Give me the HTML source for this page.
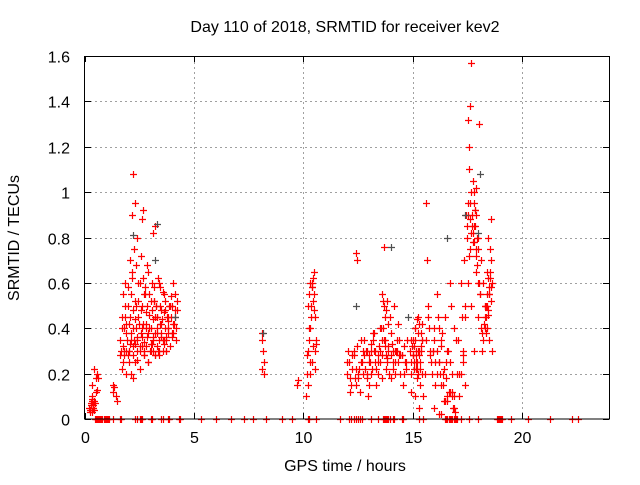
<!DOCTYPE html>
<html><head><meta charset="utf-8"><style>
body{margin:0;background:#fff}
svg text{font-family:"Liberation Sans",sans-serif;font-size:16px;fill:#000}
</style></head><body>
<svg id="chart" width="640" height="480" xmlns="http://www.w3.org/2000/svg">
<rect width="640" height="480" fill="#fff"/>
<text x="345" y="32" text-anchor="middle">Day 110 of 2018, SRMTID for receiver kev2</text>
<text x="345" y="471" text-anchor="middle">GPS time / hours</text>
<text transform="translate(19,238) rotate(-90)" text-anchor="middle">SRMTID / TECUs</text>
<g id="grid"></g>
<g id="axes"></g>
<g id="points"></g>
<rect x="84.5" y="56.5" width="525" height="362.5" fill="none" stroke="#000" stroke-width="1"/>
</svg>
<script>
const xTicks=[0,5,10,15,20];
const yTicks=[0,0.2,0.4,0.6,0.8,1,1.2,1.4,1.6];
const yTickLabels=["0","0.2","0.4","0.6","0.8","1","1.2","1.4","1.6"];
// red series: times (hours) and values (TECU)
const redT=[0.2,0.25,0.3,0.3,0.35,0.4,0.45,0.3,0.4,0.5,0.55,0.6,0.35,1.3,1.35,1.4,1.45,1.3,
1.6,1.65,1.7,1.75,1.8,1.85,1.9,1.95,2.0,2.05,2.1,2.15,2.2,2.25,2.3,2.35,2.4,2.45,2.5,2.55,2.6,2.65,2.7,2.75,2.8,2.85,2.9,2.95,3.0,3.05,3.1,3.15,3.2,3.25,3.3,3.35,3.4,3.45,3.5,3.55,3.6,3.65,3.7,3.8,3.9,4.0,4.05,4.1,4.15,4.2,
1.7,1.8,1.9,2.0,2.1,2.2,2.3,2.4,2.5,2.6,2.7,2.8,2.9,3.0,3.1,3.2,3.3,3.4,3.5,3.6,3.7,3.8,3.9,4.0,4.1,4.2,
1.75,1.85,1.95,2.05,2.15,2.25,2.35,2.45,2.55,2.65,2.75,2.85,2.95,3.05,3.15,3.25,3.35,3.45,3.55,3.65,3.75,3.85,3.95,4.05,4.15,
2.2,2.3,2.15,2.6,2.65,3.2,3.1,2.4,
8.1,8.15,8.2,8.12,8.18,8.1,9.7,9.75,
10.1,10.15,10.2,10.25,10.3,10.35,10.4,10.45,10.5,10.55,10.6,10.2,10.3,10.4,10.5,10.15,10.35,10.45,10.55,10.25,
12.0,12.1,12.2,12.3,12.4,12.5,12.6,12.7,12.8,12.9,13.0,13.1,13.2,13.3,13.4,13.5,13.6,13.7,13.8,13.9,14.0,14.1,14.2,14.3,14.4,14.5,14.6,14.7,
12.05,12.25,12.45,12.65,12.85,13.05,13.25,13.45,13.65,13.85,14.05,14.25,14.45,14.65,
12.15,12.35,12.55,12.75,12.95,13.15,13.35,13.55,13.75,13.95,14.15,14.35,14.55,14.75,12.4,12.45,13.7,13.6,13.65,13.7,
14.9,14.95,15.0,15.05,15.1,15.15,15.2,15.25,15.3,15.35,15.4,15.45,14.95,15.05,15.15,15.25,15.35,15.45,15.0,15.2,15.4,15.1,15.3,
15.6,15.7,15.8,15.9,16.0,16.1,16.2,16.3,16.4,16.5,16.6,16.7,16.8,16.9,17.0,15.65,15.75,15.85,15.95,16.05,16.15,16.25,16.35,16.45,16.55,16.65,16.75,16.85,16.95,15.5,15.55,16.0,16.3,16.6,16.8,16.2,16.9,17.05,
17.1,17.2,17.3,17.4,17.5,17.6,17.7,17.8,17.9,18.0,18.1,18.2,18.3,18.4,18.5,18.6,17.15,17.25,17.35,17.45,17.55,17.65,17.75,17.85,17.95,18.05,18.15,18.25,18.35,18.45,18.55,
17.5,17.55,17.6,17.65,17.7,17.75,17.8,17.85,17.9,17.95,18.0,18.05,18.1,17.6,17.7,17.8,17.9,18.0,18.2,18.3,18.4,18.5,18.6,18.45,18.55,17.3,17.4];
const redV=[0.05,0.03,0.08,0.1,0.06,0.04,0.07,0.15,0.22,0.12,0.2,0.18,0.05,0.12,0.14,0.1,0.08,0.15,
0.35,0.3,0.45,0.25,0.4,0.5,0.38,0.28,0.42,0.33,0.55,0.62,0.48,0.35,0.52,0.4,0.3,0.45,0.6,0.38,0.5,0.42,0.3,0.55,0.47,0.36,0.65,0.4,0.52,0.33,0.44,0.58,0.38,0.5,0.45,0.3,0.6,0.42,0.48,0.35,0.55,0.4,0.3,0.45,0.5,0.38,0.42,0.55,0.35,0.48,
0.22,0.28,0.2,0.3,0.2,0.18,0.25,0.35,0.22,0.32,0.28,0.4,0.25,0.33,0.3,0.45,0.38,0.28,0.42,0.35,0.3,0.4,0.5,0.36,0.45,0.52,
0.55,0.6,0.58,0.7,0.65,0.75,0.68,0.6,0.72,0.62,0.58,0.68,0.55,0.6,0.52,0.5,0.62,0.58,0.56,0.48,0.45,0.5,0.54,0.6,0.4,
1.08,0.95,0.9,0.88,0.92,0.85,0.82,0.8,
0.35,0.3,0.25,0.38,0.2,0.22,0.15,0.17,
0.1,0.2,0.3,0.35,0.4,0.5,0.6,0.62,0.55,0.45,0.35,0.15,0.25,0.58,0.65,0.28,0.45,0.32,0.22,0.4,
0.2,0.25,0.15,0.3,0.22,0.18,0.12,0.25,0.28,0.2,0.15,0.3,0.35,0.25,0.2,0.3,0.28,0.35,0.22,0.3,0.18,0.25,0.2,0.3,0.35,0.28,0.2,0.22,
0.3,0.28,0.32,0.35,0.3,0.25,0.38,0.32,0.4,0.27,0.33,0.3,0.28,0.25,
0.12,0.18,0.22,0.2,0.1,0.22,0.15,0.4,0.35,0.45,0.5,0.42,0.15,0.35,0.73,0.7,0.5,0.55,0.52,0.76,
0.3,0.2,0.35,0.25,0.4,0.28,0.18,0.45,0.3,0.22,0.38,0.42,0.12,0.32,0.25,0.2,0.15,0.35,0.28,0.22,0.3,0.1,0.05,
0.95,0.5,0.3,0.2,0.4,0.55,0.25,0.35,0.15,0.45,0.3,0.6,0.2,0.1,0.35,0.7,0.4,0.25,0.3,0.15,0.45,0.2,0.38,0.08,0.25,0.12,0.5,0.05,0.03,0.1,0.2,0.05,0.02,0.08,0.1,0.02,0.4,0.2,
0.35,0.6,0.25,0.5,0.8,1.2,1.57,1.0,0.9,0.75,0.55,0.3,0.45,0.65,0.55,0.7,0.2,0.45,0.7,0.9,1.32,1.38,1.05,0.85,0.8,0.6,0.4,0.35,0.5,0.62,0.75,
0.85,0.9,1.1,0.95,1.0,0.82,0.78,0.92,0.72,0.68,0.6,1.3,0.55,0.72,0.5,0.3,0.65,0.45,0.38,0.5,0.55,0.58,0.88,0.8,0.62,0.28,0.15];
// extra red points filling the dense clusters
const redT2=[0.25,0.28,0.32,0.38,0.42,0.27,0.33,0.5,0.55,
1.62,1.68,1.72,1.78,1.82,1.88,1.92,1.98,2.02,2.08,2.12,2.18,2.22,2.28,2.32,2.38,2.42,2.48,2.52,2.58,2.62,2.68,2.72,2.78,2.82,2.88,2.92,2.98,3.02,3.08,3.12,3.18,3.22,3.28,3.32,3.38,3.42,3.48,3.52,3.58,3.62,3.68,3.72,3.78,3.82,3.88,3.92,3.98,4.02,4.08,4.12,
1.9,2.0,2.1,2.2,2.3,2.4,2.5,2.6,2.7,2.8,2.9,3.0,3.1,3.2,3.3,3.4,3.5,3.6,3.7,3.8,
10.22,10.28,10.32,10.38,10.42,10.48,10.52,10.58,10.3,10.4,
12.02,12.12,12.22,12.32,12.42,12.52,12.62,12.72,12.82,12.92,13.02,13.12,13.22,13.32,13.42,13.52,13.62,13.72,13.82,13.92,14.02,14.12,14.22,14.32,14.42,14.52,14.62,14.72,
12.8,12.9,13.0,13.1,13.2,13.3,13.4,13.5,13.6,13.8,13.9,14.0,14.1,14.2,14.3,14.4,13.75,13.8,13.85,13.9,
14.92,14.97,15.02,15.07,15.12,15.17,15.22,15.27,15.32,15.37,15.42,14.94,15.04,15.14,15.24,15.34,15.44,15.1,15.2,15.3,
15.62,15.72,15.82,15.92,16.02,16.12,16.22,16.32,16.42,16.52,16.62,16.72,16.82,16.92,16.0,16.1,16.2,16.3,16.4,16.5,16.6,16.7,
17.12,17.22,17.32,17.42,17.52,17.62,17.72,17.82,17.92,18.02,18.12,18.22,18.32,18.42,18.52,18.62,
17.55,17.62,17.68,17.72,17.78,17.82,17.88,17.92,18.28,18.32,18.38,18.42,18.48,18.52,18.58,18.6,18.65,18.35,18.45,18.55];
const redV2=[0.04,0.06,0.09,0.05,0.08,0.07,0.03,0.18,0.13,
0.28,0.4,0.32,0.3,0.45,0.42,0.35,0.5,0.3,0.45,0.38,0.4,0.32,0.44,0.5,0.36,0.52,0.42,0.32,0.48,0.4,0.55,0.34,0.42,0.5,0.38,0.46,0.3,0.4,0.48,0.36,0.52,0.28,0.45,0.4,0.35,0.5,0.38,0.44,0.3,0.47,0.52,0.36,0.43,0.4,0.32,0.45,0.5,0.38,0.42,0.48,
0.3,0.25,0.35,0.28,0.33,0.26,0.3,0.36,0.28,0.32,0.25,0.3,0.35,0.28,0.32,0.3,0.36,0.33,0.35,0.38,
0.5,0.55,0.6,0.58,0.52,0.48,0.3,0.33,0.2,0.25,
0.25,0.18,0.22,0.28,0.15,0.2,0.25,0.3,0.22,0.18,0.25,0.2,0.3,0.22,0.28,0.25,0.18,0.32,0.25,0.2,0.28,0.22,0.3,0.25,0.2,0.28,0.32,0.25,
0.35,0.3,0.28,0.33,0.38,0.3,0.25,0.4,0.35,0.28,0.32,0.38,0.3,0.25,0.35,0.28,0.45,0.48,0.52,0.42,
0.25,0.32,0.28,0.22,0.35,0.3,0.25,0.38,0.28,0.32,0.2,0.35,0.28,0.22,0.3,0.25,0.35,0.4,0.44,0.42,
0.35,0.45,0.28,0.3,0.25,0.2,0.4,0.32,0.22,0.18,0.3,0.25,0.12,0.05,0.35,0.3,0.25,0.15,0.2,0.08,0.1,0.12,
0.1,0.2,0.3,0.45,0.6,0.75,0.85,0.95,1.02,0.8,0.7,0.6,0.5,0.4,0.35,0.3,
0.95,0.88,0.82,0.9,0.78,0.85,0.92,0.75,0.42,0.4,0.45,0.5,0.48,0.55,0.52,0.58,0.6,0.38,0.46,0.65];
// dark (black) series
const darkT=[2.2,3.3,3.2,4.1,8.15,12.4,14.0,14.8,16.6,17.4,18.1,18.0];
const darkV=[0.81,0.86,0.7,0.45,0.38,0.5,0.76,0.45,0.8,0.9,1.08,0.82];
// zero-valued markers along the axis
const zeroT=[0.45,0.5,0.55,0.6,0.65,0.7,0.75,0.8,0.85,0.9,0.95,1.0,1.05,1.1,1.3,1.6,1.65,2.3,2.4,2.5,2.55,2.6,3.0,3.05,3.5,3.55,3.8,3.85,4.3,4.35,5.3,6.0,6.7,7.3,7.7,8.3,9.0,9.5,10.2,10.25,10.6,11.7,12.1,12.2,12.3,12.4,12.5,12.6,12.7,13.1,13.4,13.65,13.7,13.75,13.8,13.85,13.9,13.95,14.1,14.15,14.5,14.55,15.3,15.5,16.5,16.55,16.6,16.65,16.7,16.75,16.8,16.9,16.95,17.0,17.05,17.2,17.6,18.0,18.85,18.9,18.95,19.0,19.05,19.1,19.5,20.3,21.3,22.3,22.6];

const X0=85,X1=609,Y0=419,Y1=56;
const sx=t=>X0+(t/24)*(X1-X0);
const sy=v=>Y0-(v/1.6)*(Y0-Y1);
const NS="http://www.w3.org/2000/svg";
function mk(tag,attrs,parent){const e=document.createElementNS(NS,tag);for(const k in attrs)e.setAttribute(k,attrs[k]);parent.appendChild(e);return e;}
const grid=document.getElementById('grid'),axes=document.getElementById('axes'),pts=document.getElementById('points');
yTicks.forEach((v,i)=>{
  const y=Math.round(sy(v))+0.5;
  if(i>0&&i<yTicks.length-1){const g=mk('line',{x1:X0,x2:X1,y1:y,y2:y,stroke:'#a0a0a0','stroke-dasharray':'2,3'},grid);
  
  }
  mk('line',{x1:X0,x2:X0+6,y1:y,y2:y,stroke:'#000'},axes);
  mk('line',{x1:X1,x2:X1-6,y1:y,y2:y,stroke:'#000'},axes);
  const t=mk('text',{x:X0-15,y:y+6,'text-anchor':'end'},axes);t.textContent=yTickLabels[i];
  
  
});
xTicks.forEach(v=>{
  const x=Math.round(sx(v))+0.5;
  if(v>0){const g=mk('line',{x1:x,x2:x,y1:Y0,y2:Y1,stroke:'#a0a0a0','stroke-dasharray':'2,3'},grid);
  
  }
  mk('line',{x1:x,x2:x,y1:Y0,y2:Y0-6,stroke:'#000'},axes);
  mk('line',{x1:x,x2:x,y1:Y1,y2:Y1+6,stroke:'#000'},axes);
  const t=mk('text',{x:x,y:Y0+24,'text-anchor':'middle'},axes);t.textContent=String(v);
  
  
});
function plus(t,v,color,name){
  const x=Math.round(sx(t))+0.5,y=Math.round(sy(v))+0.5;
  const p=mk('path',{d:`M${x-3.5},${y}h7M${x},${y-3.5}v7`,stroke:color,'stroke-width':1.2,fill:'none'},pts);
  
  
}
redT.forEach((t,i)=>plus(t,redV[i],'#ff0000','red-point'));
redT2.forEach((t,i)=>plus(t,redV2[i],'#ff0000','red-point'));
darkT.forEach((t,i)=>plus(t,darkV[i],'#505050','dark-point'));
zeroT.forEach(t=>plus(t,0,'#ff0000','zero-point'));
</script>
</body></html>
